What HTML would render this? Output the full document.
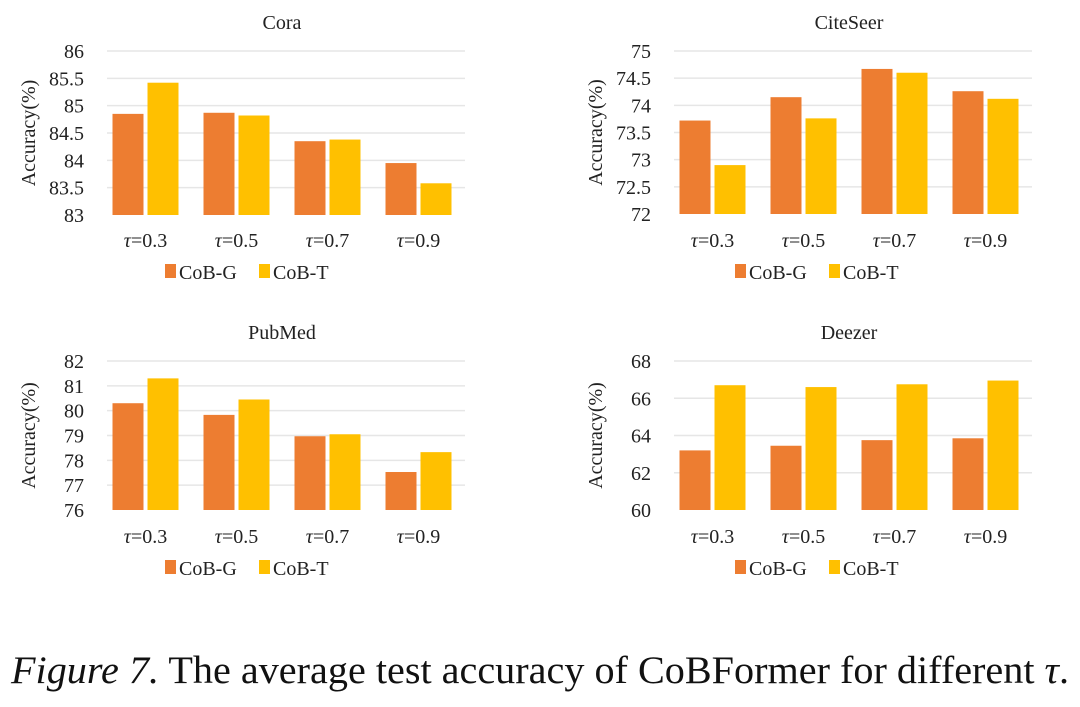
<!DOCTYPE html>
<html><head><meta charset="utf-8"><style>
body{margin:0;background:#fff;width:1080px;height:702px;overflow:hidden}
svg text{font-family:"Liberation Serif",serif;fill:#222}
</style></head><body>
<svg id="fig" width="1080" height="702" xmlns="http://www.w3.org/2000/svg">
<text x="540" y="683" text-anchor="middle" font-size="39.5" textLength="1058" lengthAdjust="spacingAndGlyphs" style="fill:#111"><tspan font-style="italic">Figure 7.</tspan> The average test accuracy of CoBFormer for different <tspan font-style="italic">τ</tspan>.</text>
</svg>
<script>
const categories = ["τ=0.3","τ=0.5","τ=0.7","τ=0.9"];
const seriesNames = ["CoB-G","CoB-T"];
const coraG = [84.85,84.87,84.35,83.95];
const coraT = [85.42,84.82,84.38,83.58];
const citeG = [73.72,74.15,74.67,74.26];
const citeT = [72.9,73.76,74.6,74.12];
const pubG = [80.3,79.83,78.97,77.53];
const pubT = [81.3,80.45,79.05,78.33];
const deezG = [63.2,63.45,63.75,63.85];
const deezT = [66.7,66.6,66.75,66.95];
const coraTicks = ["83","83.5","84","84.5","85","85.5","86"];
const citeTicks = ["72","72.5","73","73.5","74","74.5","75"];
const pubTicks = ["76","77","78","79","80","81","82"];
const deezTicks = ["60","62","64","66","68"];

const NS="http://www.w3.org/2000/svg";
const svg=document.getElementById('fig');
const colors=["#ED7D31","#FFC000"];
function mk(tag,attrs,parent){const e=document.createElementNS(NS,tag);for(const k in attrs)e.setAttribute(k,attrs[k]);(parent||svg).appendChild(e);return e;}

function chart(key,title,ticks,g,t,x0,yTop,yBot,titleY,catY,legY,legX){
  const grp=mk('g',{});
  
  
  const vmin=parseFloat(ticks[0]),vmax=parseFloat(ticks[ticks.length-1]);
  const y=v=>yBot-(v-vmin)/(vmax-vmin)*(yBot-yTop);
  const cw=91;
  const tt=mk('text',{x:x0+182,y:titleY,'text-anchor':'middle','font-size':20},grp);
  tt.textContent=title;
  
  
  ticks.forEach(tk=>{
    const v=parseFloat(tk);
    if(v>vmin){
      const l=mk('line',{x1:x0+7,x2:x0+365,y1:y(v),y2:y(v),stroke:'#e6e6e6','stroke-width':1.5},grp);
      
      
    }
    const tx=mk('text',{x:x0-16,y:y(v)+7,'text-anchor':'end','font-size':20},grp);
    tx.textContent=tk;
    
    
  });
  const ya=mk('text',{x:0,y:0,'text-anchor':'middle','font-size':20,transform:`translate(${x0-65},${(yTop+yBot)/2}) rotate(-90)`},grp);
  ya.textContent="Accuracy(%)";
  
  
  [g,t].forEach((arr,si)=>{
    arr.forEach((v,i)=>{
      const cx=x0+cw*i+cw/2;
      const bx=si===0?cx-33:cx+2;
      const r=mk('rect',{x:bx,y:y(v),width:31,height:yBot-y(v),fill:colors[si]},grp);
      
      
    });
  });
  categories.forEach((c,i)=>{
    const tx=mk('text',{x:x0+cw*i+cw/2,y:catY,'text-anchor':'middle','font-size':20},grp);
    tx.innerHTML='<tspan font-style="italic">τ</tspan>'+c.slice(1);
    
    
  });
  seriesNames.forEach((n,si)=>{
    const lx=legX+si*94;
    const sq=mk('rect',{x:lx,y:legY-15,width:11,height:14,fill:colors[si]},grp);
    
    
    const tx=mk('text',{x:lx+14,y:legY,'font-size':20},grp);
    tx.textContent=n;
    
    
  });
}
chart('cora','Cora',coraTicks,coraG,coraT,100,51,215,29,247,279,165);
chart('citeseer','CiteSeer',citeTicks,citeG,citeT,667,51,214,29,247,279,735);
chart('pubmed','PubMed',pubTicks,pubG,pubT,100,361,510,339,543,575,165);
chart('deezer','Deezer',deezTicks,deezG,deezT,667,361,510,339,543,575,735);
</script>
</body></html>
